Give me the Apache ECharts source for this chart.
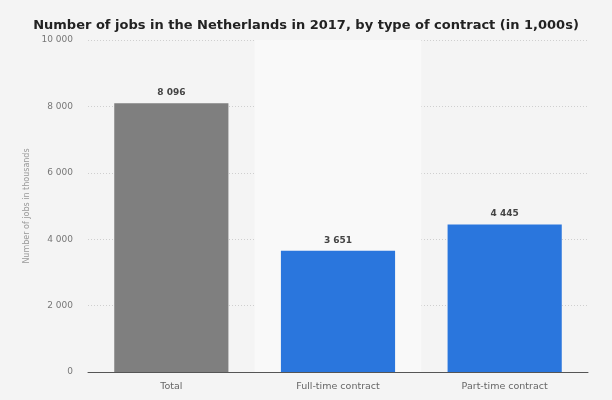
<!DOCTYPE html>
<html><head><meta charset="utf-8">
<script src="https://cdn.jsdelivr.net/npm/echarts@6/dist/echarts.min.js"></script>
<style>html,body{margin:0;padding:0;background:#f4f4f4}#c{width:612px;height:400px}</style>
</head><body><div id="c"></div>
<script>
var categories = ['Total', 'Full-time contract', 'Part-time contract'];
var values = [8096, 3651, 4445];
var highlight = [null, 10000, null];
var yTicks = [0, 2000, 4000, 6000, 8000, 10000];

function fmt(v){ return String(v).replace(/\B(?=(\d{3})+(?!\d))/g, ' '); }

var chart = echarts.init(document.getElementById('c'));
chart.setOption({
  backgroundColor: '#f4f4f4',
  animation: false,
  title: {
    text: 'Number of jobs in the Netherlands in 2017, by type of contract (in 1,000s)',
    left: 'center', top: 14,
    textStyle: {fontFamily: 'DejaVu Sans', fontSize: 13, fontWeight: 'bold', color: '#222'}
  },
  grid: {left: 88, right: 24, top: 40, bottom: 28},
  xAxis: [{
    type: 'category', data: categories,
    axisLine: {lineStyle: {color: '#555', width: 1}},
    axisTick: {show: false},
    axisLabel: {fontFamily: 'DejaVu Sans', fontSize: 9.5, color: '#666', margin: 10}
  }, {
    type: 'category', data: categories, show: false
  }],
  yAxis: {
    type: 'value', min: yTicks[0], max: yTicks[yTicks.length-1], interval: 2000,
    name: 'Number of jobs in thousands', nameLocation: 'middle', nameGap: 39,
    nameTextStyle: {fontFamily: 'DejaVu Sans', fontSize: 8, color: '#999'},
    axisLine: {show: false}, axisTick: {show: false},
    axisLabel: {fontFamily: 'DejaVu Sans', fontSize: 9, color: '#777', margin: 15, formatter: fmt},
    splitLine: {lineStyle: {color: '#cfcfcf', type: [1, 2], width: 1}}
  },
  series: [{
    type: 'bar', xAxisIndex: 1, data: highlight, barWidth: '100%', silent: true,
    itemStyle: {color: '#f9f9f9'}, z: 0
  }, {
    type: 'bar', xAxisIndex: 0, barWidth: '68.5%', z: 3,
    data: values.map(function(v, i){ return {value: v, itemStyle: {color: i === 0 ? '#7f7f7f' : '#2a76dd'}}; }),
    label: {show: true, position: 'top', distance: 6, formatter: function(p){ return fmt(p.value); },
      fontFamily: 'DejaVu Sans', fontSize: 9, fontWeight: 'bold', color: '#444'}
  }]
});
</script></body></html>
